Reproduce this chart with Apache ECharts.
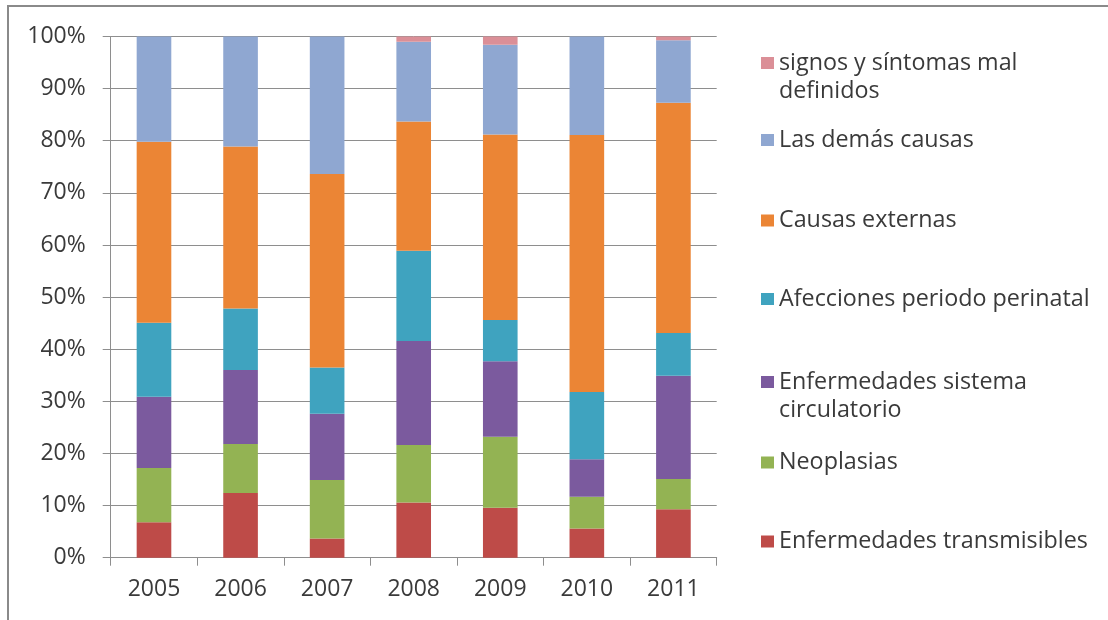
<!DOCTYPE html>
<html>
<head>
<meta charset="utf-8">
<script src="https://cdn.jsdelivr.net/npm/echarts@6/dist/echarts.min.js"></script>
<style>
html,body{margin:0;padding:0;background:#fff;}
#chart{width:1108px;height:620px;}
</style>
</head>
<body>
<div id="chart"></div>
<script>
const years = ['2005', '2006', '2007', '2008', '2009', '2010', '2011'];
const yTicks = [0, 10, 20, 30, 40, 50, 60, 70, 80, 90, 100];

const seriesNames = [
  'Enfermedades transmisibles',
  'Neoplasias',
  'Enfermedades sistema\ncirculatorio',
  'Afecciones periodo perinatal',
  'Causas externas',
  'Las demás causas',
  'signos y síntomas mal\ndefinidos'
];

const transmisibles = [6.8, 12.4, 3.7, 10.6, 9.6, 5.6, 9.3];
const neoplasias    = [10.4, 9.4, 11.2, 11.0, 13.6, 6.1, 5.8];
const circulatorio  = [13.7, 14.2, 12.7, 20.0, 14.5, 7.2, 19.8];
const perinatal     = [14.2, 11.8, 8.9, 17.3, 7.9, 12.9, 8.2];
const externas      = [34.7, 31.1, 37.1, 24.8, 35.6, 49.3, 44.2];
const demas         = [20.2, 21.1, 26.4, 15.3, 17.2, 18.9, 12.0];
const signos        = [0, 0, 0, 1.0, 1.6, 0, 0.7];

const seriesValues = [transmisibles, neoplasias, circulatorio, perinatal, externas, demas, signos];
const colors = ['#BE4B48', '#93B353', '#7B5A9E', '#3FA3BF', '#EB8535', '#8FA7D1', '#DB8F97'];

const FONT = '"Open Sans"';
const TXT = '#3a3a3a';

const chart = echarts.init(document.getElementById('chart'));

const legendCentres = {
  6: 63, 5: 140, 4: 220.5, 3: 299, 2: 382, 1: 462.5, 0: 541.5
};
const legends = [];
for (let i = 6; i >= 0; i--) {
  const twoLine = seriesNames[i].indexOf('\n') >= 0;
  const lh = twoLine ? 28 : 25;
  legends.push({
    data: [seriesNames[i]],
    orient: 'vertical',
    left: 761,
    top: legendCentres[i] - (twoLine ? 1.5 * lh : 0.5 * lh),
    padding: 0,
    itemWidth: 13,
    itemHeight: 12,
    icon: 'rect',
    selectedMode: false,
    formatter: twoLine ? (n => ' \n' + n) : (n => n),
    textStyle: {
      fontFamily: FONT, fontSize: 23.3, color: TXT, lineHeight: lh
    }
  });
}

chart.setOption({
  animation: false,
  backgroundColor: '#fff',
  graphic: [{
    type: 'rect',
    shape: { x: 8, y: 6, width: 1200, height: 700 },
    style: { fill: 'none', stroke: '#8a8a8a', lineWidth: 2 },
    silent: true, z: -10
  }],
  grid: { left: 110.7, right: 391.3, top: 36.5, bottom: 62.3, containLabel: false },
  legend: legends,
  xAxis: {
    type: 'category',
    data: years,
    axisLine: { lineStyle: { color: '#8e8e8e', width: 1 } },
    axisTick: { show: true, length: 8, lineStyle: { color: '#8e8e8e' } },
    axisLabel: { fontFamily: FONT, fontSize: 23, color: TXT, margin: 20 }
  },
  yAxis: {
    type: 'value',
    min: 0, max: 100, interval: 10,
    axisLine: { show: true, lineStyle: { color: '#8e8e8e', width: 1 } },
    axisTick: { show: true, length: 8, lineStyle: { color: '#8e8e8e' } },
    splitLine: { show: true, lineStyle: { color: '#8e8e8e', width: 1 } },
    axisLabel: {
      fontFamily: FONT, fontSize: 23, color: TXT, margin: 25,
      formatter: v => (yTicks.indexOf(v) >= 0 ? v + '%' : '')
    }
  },
  series: seriesValues.map((vals, i) => ({
    name: seriesNames[i],
    type: 'bar',
    stack: 'total',
    barWidth: '40%',
    data: vals,
    itemStyle: { color: colors[i] }
  }))
});
</script>
</body>
</html>
